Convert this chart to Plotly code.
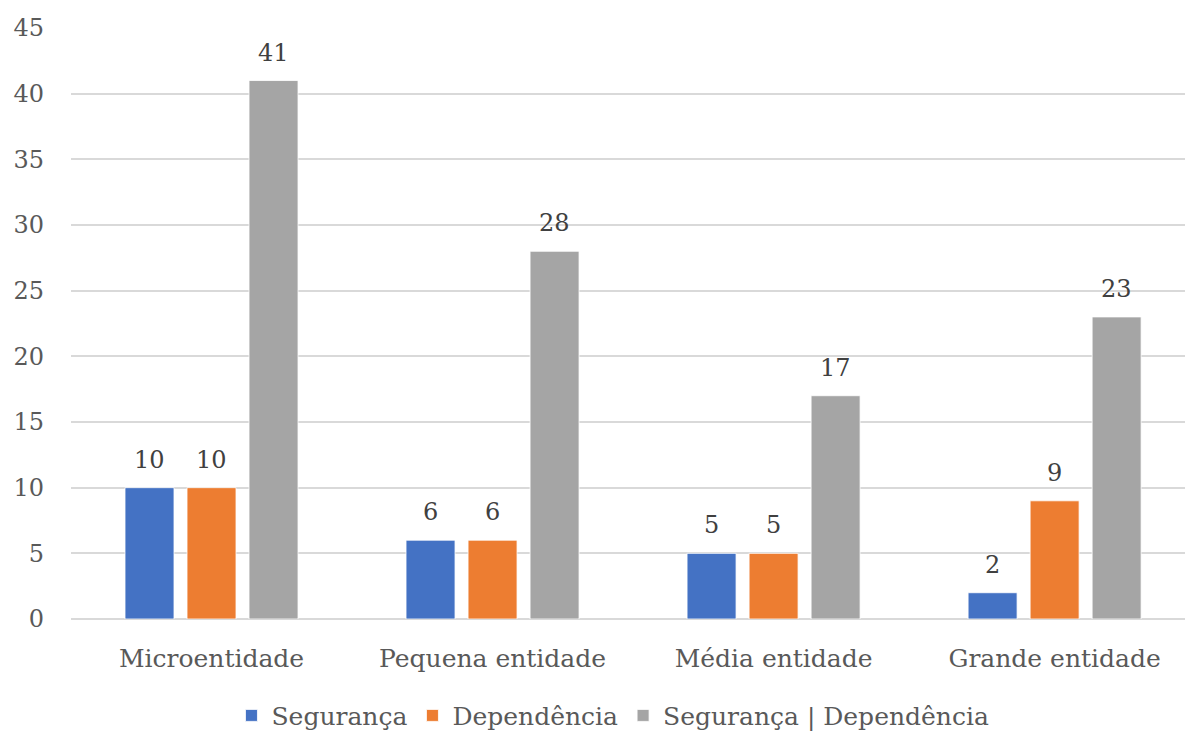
import plotly.graph_objects as go

categories = ["Microentidade", "Pequena entidade", "Média entidade", "Grande entidade"]
seguranca = [10, 6, 5, 2]
dependencia = [10, 6, 5, 9]
seg_dep = [41, 28, 17, 23]

series = [
    ("Segurança", seguranca, "#4472C4"),
    ("Dependência", dependencia, "#ED7D31"),
    ("Segurança | Dependência", seg_dep, "#A5A5A5"),
]

FONT = "DejaVu Serif"

fig = go.Figure()
for name, vals, color in series:
    fig.add_trace(go.Bar(
        x=categories, y=vals, name=name,
        marker=dict(color=color, line=dict(color="white", width=0.8)),
    ))

# value labels above each bar, shifted to sit over its trace slot
offsets = [-62, 0, 62]
for (name, vals, color), dx in zip(series, offsets):
    for cat, v in zip(categories, vals):
        fig.add_annotation(
            x=cat, y=v, text=str(v), showarrow=False,
            xshift=dx, yshift=12, yanchor="bottom",
            font=dict(family=FONT, size=24, color="#404040"),
        )

fig.update_layout(
    width=1185, height=731,
    margin=dict(l=71, r=0, t=28, b=112, autoexpand=False),
    plot_bgcolor="white", paper_bgcolor="white",
    barmode="group", bargap=0.338, bargroupgap=0.21,
    font=dict(family=FONT, size=24, color="#595959"),
    legend=dict(
        orientation="h", x=0.4865, xanchor="center",
        yref="container", y=0.021, yanchor="middle",
        font=dict(family=FONT, size=25, color="#595959"),
        itemwidth=30, traceorder="normal",
    ),
    xaxis=dict(
        range=[-0.5, 3.464], showgrid=False, showline=False, ticks="",
        ticklabelstandoff=22, tickfont=dict(family=FONT, size=25),
    ),
    yaxis=dict(
        range=[0, 45], dtick=5, showgrid=True, gridcolor="#D9D9D9", gridwidth=1.5,
        zeroline=True, zerolinecolor="#D9D9D9", zerolinewidth=1.5,
        showline=False, ticks="", ticklabelstandoff=26,
        tickfont=dict(family=FONT, size=24),
    ),
)

fig.write_html("out.html")
